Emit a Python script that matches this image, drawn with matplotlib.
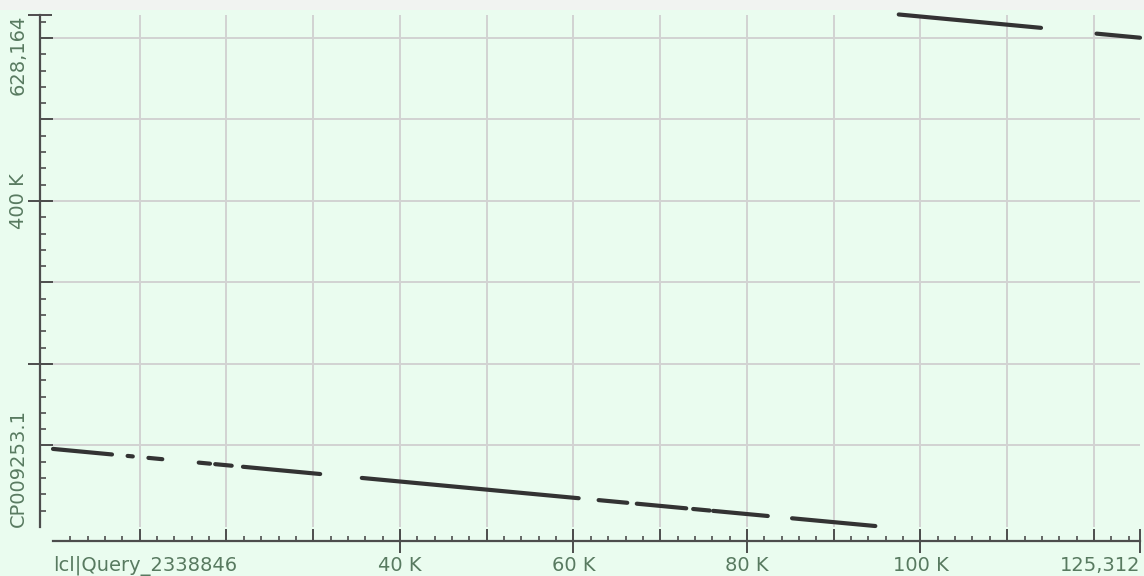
import matplotlib
matplotlib.use('Agg')
import matplotlib.pyplot as plt
from matplotlib.patches import Rectangle

# longitudes de las secuencias
query_len = 125312
subject_len = 628164
query_name = 'lcl|Query_2338846'
subject_name = 'CP009253.1'

# segmentos alineados (inicio/fin en query, inicio/fin en subject), en pb
q_start = [0, 8600, 11000, 16800, 18700, 21900, 35600, 62900, 67300, 73800,
           76100, 85200, 97500, 120300]
q_end = [6800, 9200, 12600, 18100, 20600, 30800, 60600, 66200, 73000, 75700,
         82400, 94800, 113900, 125312]
s_start = [95800, 87200, 84800, 79000, 77100, 73900, 60200, 33000, 28600,
           22100, 19800, 10700, 628800, 605300]
s_end = [89000, 86600, 83200, 77700, 75200, 65000, 35300, 29700, 22900,
         20200, 13500, 1200, 612400, 600300]

# ticks
x_grid = list(range(10000, 125000, 10000))
x_minor = list(range(2000, 125312, 2000))
x_lab_pos = [0, 40000, 60000, 80000, 100000, query_len]
x_lab = [query_name, '40 K', '60 K', '80 K', '100 K', '125,312']
y_grid = list(range(100000, 628164, 100000))
y_minor = list(range(20000, 628164, 20000))
y_lab_pos = [0, 200000, 400000, subject_len]
y_lab = [subject_name, '', '400 K', '628,164']

bg = '#EAFCEF'
axis_col = '#4d4d4d'
txt_col = '#587A60'
px = 0.72  # puntos por pixel a 100 dpi

plt.rcParams['font.family'] = ['DejaVu Sans']

fig = plt.figure(figsize=(11.44, 5.76), dpi=100, facecolor=bg)
fig.patches.append(Rectangle((0, 1 - 10 / 576), 1, 10 / 576, transform=fig.transFigure,
                             facecolor='#F1F3F1', edgecolor='none', zorder=0))
ax = fig.add_axes([53 / 1144, 49 / 576, 1087 / 1144, 512 / 576])
ax.set_facecolor(bg)
ax.set_xlim(0, query_len)
ax.set_ylim(0, subject_len)
ax.set_axisbelow(True)

for a, b, c, d in zip(q_start, q_end, s_start, s_end):
    ax.plot([a, b], [c, d], color='#333333', lw=3.0, solid_capstyle='round',
            clip_on=False, zorder=3)

for sp in ['top', 'right']:
    ax.spines[sp].set_visible(False)
ax.spines['left'].set_position(('outward', 13 * px))
ax.spines['bottom'].set_position(('outward', 14 * px))
for sp in ['left', 'bottom']:
    ax.spines[sp].set_color(axis_col)
    ax.spines[sp].set_linewidth(1.6)

ax.set_xticks(x_grid)
ax.set_xticks(x_minor, minor=True)
ax.set_yticks(y_grid)
ax.set_yticks(y_minor, minor=True)
ax.tick_params(which='major', direction='in', length=12 * px, width=1.4,
               color=axis_col, labelbottom=False, labelleft=False)
ax.tick_params(axis='y', which='major', length=13 * px)
ax.tick_params(which='minor', direction='in', length=5 * px, width=1.2, color=axis_col)
ax.tick_params(axis='y', which='minor', length=6 * px)
ax.grid(True, which='major', color='#D2D2D2', lw=1.4)

# ejes gemelos para los ticks con etiqueta
axt = ax.twiny()
axt.set_xlim(0, query_len)
axt.xaxis.set_ticks_position('bottom')
axt.spines['bottom'].set_position(('outward', 14 * px))
for sp in axt.spines.values():
    sp.set_visible(False)
axt.set_xticks(x_lab_pos)
axt.set_xticklabels(x_lab)
axt.tick_params(axis='x', direction='inout', length=24 * px, width=1.4, color=axis_col,
                pad=2, labelsize=14, labelcolor=txt_col)
axt.xaxis.get_major_ticks()[0].tick1line.set_visible(False)
xl = axt.get_xticklabels()
xl[0].set_ha('left')
xl[-1].set_ha('right')

axr = ax.twinx()
axr.set_ylim(0, subject_len)
axr.yaxis.set_ticks_position('left')
axr.spines['left'].set_position(('outward', 13 * px))
for sp in axr.spines.values():
    sp.set_visible(False)
axr.set_yticks(y_lab_pos)
axr.set_yticklabels(y_lab, rotation=90)
axr.tick_params(axis='y', direction='inout', length=24 * px, width=1.4, color=axis_col,
                pad=0, labelsize=14, labelcolor=txt_col)
axr.yaxis.get_major_ticks()[0].tick1line.set_visible(False)
yl = axr.get_yticklabels()
yl[0].set_va('bottom')
yl[2].set_va('center')
yl[3].set_va('top')

fig.savefig('out.png', dpi=100, facecolor=bg)
plt.close(fig)
